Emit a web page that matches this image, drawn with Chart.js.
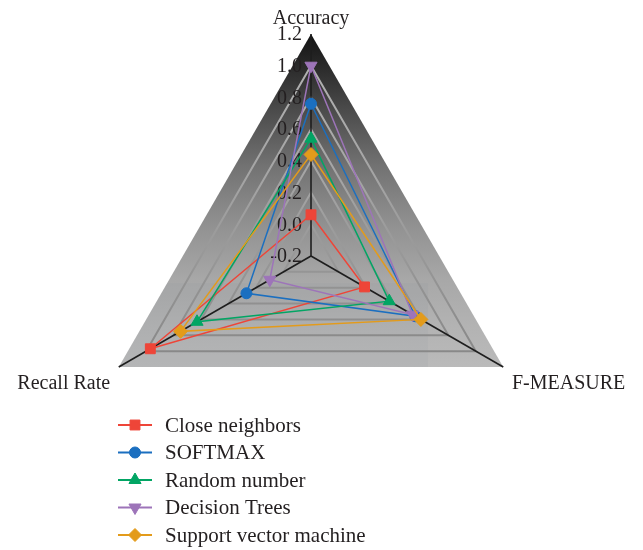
<!DOCTYPE html>
<html>
<head>
<meta charset="utf-8">
<title>Classifier comparison</title>
<script src="https://cdn.jsdelivr.net/npm/chart.js@4/dist/chart.umd.min.js"></script>
<style>
  html, body { margin: 0; padding: 0; background: #ffffff; }
  #wrap { width: 643px; height: 550px; }
</style>
</head>
<body>
<div id="wrap"><canvas id="radar" width="643" height="550"></canvas></div>
<script>
// Radar axes (clockwise from the top)
const AXES = ['Accuracy', 'F-MEASURE', 'Recall Rate'];

// Series names
const SERIES_NAMES = ['Close neighbors', 'SOFTMAX', 'Random number', 'Decision Trees', 'Support vector machine'];

// Scores per axis: [Accuracy, F-MEASURE, Recall Rate]
const closeNeighbors = [0.06, 0.19, 0.97];
const softmax        = [0.76, 0.56, 0.27];
const randomNumber   = [0.54, 0.37, 0.63];
const decisionTrees  = [1.00, 0.54, 0.10];
const supportVector  = [0.44, 0.60, 0.75];

// Radial tick labels
const TICK_LABELS = ['-0.2', '0.0', '0.2', '0.4', '0.6', '0.8', '1.0', '1.2'];

const SERIES_VALUES = [closeNeighbors, softmax, randomNumber, decisionTrees, supportVector];
const COLORS = ['#ee4538', '#1b6fc0', '#02a564', '#9d74b9', '#e39b1b'];
const STYLES = [
  { pointStyle: 'rect', rotation: 0, radius: 7 },
  { pointStyle: 'circle', rotation: 0, radius: 5.5 },
  { pointStyle: 'triangle', rotation: 0, radius: 7 },
  { pointStyle: 'triangle', rotation: 180, radius: 7 },
  { pointStyle: 'rectRot', rotation: 0, radius: 7 }
];

const FONT_FAMILY = '"Liberation Serif", "Times New Roman", serif';
const TEXT_COLOR = '#231f20';

const datasets = SERIES_VALUES.map((vals, i) => ({
  label: SERIES_NAMES[i],
  data: vals,
  borderColor: COLORS[i],
  backgroundColor: COLORS[i],
  borderWidth: 1.5,
  fill: false,
  pointStyle: STYLES[i].pointStyle,
  pointRotation: STYLES[i].rotation,
  pointRadius: STYLES[i].radius,
  pointHoverRadius: STYLES[i].radius,
  pointBackgroundColor: COLORS[i],
  pointBorderColor: COLORS[i],
  pointBorderWidth: 1,
  // later series sit on top
  order: SERIES_VALUES.length - i
}));

// Vertical extent of the outer triangle
function triangleSpan(s) {
  const n = s._pointLabels.length || 3;
  const ys = [];
  for (let i = 0; i < n; i++) ys.push(s.getPointPosition(i, s.drawingArea).y);
  return [Math.min(...ys), Math.max(...ys)];
}

// Grid lines: light on the dark top, darker on the pale bottom
function gridColor(c) {
  if (c.tick && c.tick.value > 1.19) return 'rgba(0,0,0,0)';
  const s = c.chart.scales.r;
  const [top, bot] = triangleSpan(s);
  const g = c.chart.ctx.createLinearGradient(0, top, 0, bot);
  g.addColorStop(0.0, '#b4b4b4');
  g.addColorStop(0.45, '#a4a4a4');
  g.addColorStop(0.75, '#939393');
  g.addColorStop(1.0, '#868686');
  return g;
}

// Gradient-filled outer triangle plus the faint plot-area panel
const backdropPlugin = {
  id: 'backdrop',
  beforeDraw(chart) {
    const s = chart.scales.r;
    const ctx = chart.ctx;
    const n = chart.data.labels.length;
    const pts = [];
    for (let i = 0; i < n; i++) pts.push(s.getPointPosition(i, s.drawingArea));
    const [topY, botY] = triangleSpan(s);
    const g = ctx.createLinearGradient(0, topY, 0, botY);
    g.addColorStop(0.00, '#131313');
    g.addColorStop(0.10, '#2b2b2b');
    g.addColorStop(0.22, '#494949');
    g.addColorStop(0.40, '#737373');
    g.addColorStop(0.58, '#929292');
    g.addColorStop(0.74, '#a8a8a8');
    g.addColorStop(0.88, '#b3b3b3');
    g.addColorStop(1.00, '#bababa');
    ctx.save();
    ctx.beginPath();
    pts.forEach((p, i) => (i ? ctx.lineTo(p.x, p.y) : ctx.moveTo(p.x, p.y)));
    ctx.closePath();
    ctx.fillStyle = g;
    ctx.fill();
    ctx.clip();
    ctx.fillStyle = 'rgba(110,125,135,0.07)';
    ctx.fillRect(s.xCenter - 193, s.yCenter + 27, 310, botY - s.yCenter - 27);
    ctx.restore();
  }
};

// Tick values, right-aligned just left of the vertical axis
const tickLabelPlugin = {
  id: 'tickLabels',
  beforeDatasetsDraw(chart) {
    const s = chart.scales.r;
    const ctx = chart.ctx;
    ctx.save();
    ctx.font = '20px ' + FONT_FAMILY;
    ctx.fillStyle = TEXT_COLOR;
    ctx.textAlign = 'right';
    ctx.textBaseline = 'middle';
    s.ticks.forEach(t => {
      const y = s.yCenter - s.getDistanceFromCenterForValue(t.value);
      ctx.fillText(t.label, s.xCenter - 9, y + 1);
    });
    ctx.restore();
  }
};

// Axis names placed outside the triangle's corners
const axisLabelPlugin = {
  id: 'axisLabels',
  afterDraw(chart) {
    const s = chart.scales.r;
    const ctx = chart.ctx;
    ctx.save();
    ctx.font = '20px ' + FONT_FAMILY;
    ctx.fillStyle = TEXT_COLOR;
    chart.data.labels.forEach((lab, i) => {
      const p = s.getPointPosition(i, s.drawingArea + 10);
      if (Math.abs(p.x - s.xCenter) < 1) {
        ctx.textAlign = 'center';
        ctx.textBaseline = 'alphabetic';
        ctx.fillText(lab, p.x, p.y);
      } else {
        ctx.textAlign = p.x < s.xCenter ? 'right' : 'left';
        ctx.textBaseline = 'top';
        ctx.fillText(lab, p.x, p.y + 2);
      }
    });
    ctx.restore();
  }
};

// Vertical legend below the chart: line, marker, name
const legendPlugin = {
  id: 'stackLegend',
  afterDraw(chart) {
    const ctx = chart.ctx;
    const x0 = 118, x1 = 152, xm = 135, xt = 165, y0 = 425, dy = 27.5;
    ctx.save();
    chart.data.datasets.forEach((ds, i) => {
      const y = y0 + i * dy;
      ctx.strokeStyle = ds.borderColor;
      ctx.lineWidth = 1.8;
      ctx.beginPath();
      ctx.moveTo(x0, y);
      ctx.lineTo(x1, y);
      ctx.stroke();
      ctx.fillStyle = ds.pointBackgroundColor;
      ctx.strokeStyle = ds.pointBorderColor;
      ctx.lineWidth = 1;
      Chart.helpers.drawPoint(ctx, {
        pointStyle: ds.pointStyle,
        rotation: ds.pointRotation,
        radius: ds.pointStyle === 'rectRot' ? 6.5 : ds.pointRadius,
        borderWidth: 1
      }, xm, y);
      ctx.fillStyle = TEXT_COLOR;
      ctx.font = '21px ' + FONT_FAMILY;
      ctx.textAlign = 'left';
      ctx.textBaseline = 'middle';
      ctx.fillText(ds.label, xt, y + 1);
    });
    ctx.restore();
  }
};

new Chart(document.getElementById('radar'), {
  type: 'radar',
  data: { labels: AXES, datasets },
  plugins: [backdropPlugin, tickLabelPlugin, axisLabelPlugin, legendPlugin],
  options: {
    responsive: false,
    animation: false,
    devicePixelRatio: 1,
    layout: { padding: { left: 89, right: 110, top: 34, bottom: 72 } },
    elements: { line: { tension: 0 } },
    plugins: {
      legend: { display: false },
      tooltip: { enabled: false }
    },
    scales: {
      r: {
        min: -0.2,
        max: 1.2,
        beginAtZero: false,
        ticks: {
          stepSize: 0.2,
          display: false,
          callback: (v, i) => TICK_LABELS[i]
        },
        pointLabels: { display: false },
        grid: {
          color: gridColor,
          lineWidth: 2
        },
        angleLines: { color: '#1e1e1e', lineWidth: 1.6 }
      }
    }
  }
});
</script>
</body>
</html>
